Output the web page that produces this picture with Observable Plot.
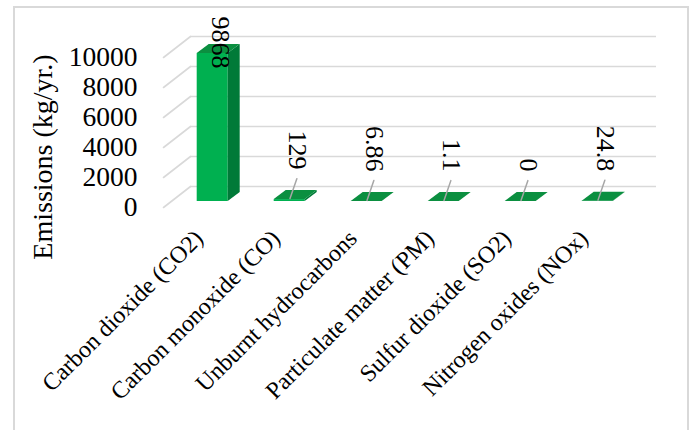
<!DOCTYPE html>
<html>
<head>
<meta charset="utf-8">
<script src="https://cdn.jsdelivr.net/npm/d3@7"></script>
<script src="https://cdn.jsdelivr.net/npm/@observablehq/plot@0.6"></script>
<style>
  html, body { margin: 0; padding: 0; background: #fff; }
  #chart { position: relative; width: 694px; height: 430px; overflow: hidden; background: #fff; }
  #chart svg { position: absolute; left: 0; top: 0; }
  #box { position: absolute; left: 13px; top: 6px; width: 676px; height: 470px;
         border: 2px solid #d9d9d9; box-sizing: border-box; }
</style>
</head>
<body>
<div id="chart"><div id="box"></div></div>
<script>
// Annual emissions by pollutant
const categories = [
  "Carbon dioxide (CO2)",
  "Carbon monoxide (CO)",
  "Unburnt hydrocarbons",
  "Particulate matter (PM)",
  "Sulfur dioxide (SO2)",
  "Nitrogen oxides (NOx)"
];
const emissions = [9868, 129, 6.86, 1.1, 0, 24.8];
const valueLabels = ["9868", "129", "6.86", "1.1", "0", "24.8"];
const yTicks = [0, 2000, 4000, 6000, 8000, 10000];
const yTitle = "Emissions (kg/yr.)";

const data = categories.map((name, i) => ({name, value: emissions[i], label: valueLabels[i]}));

// pseudo-3D geometry (pixels)
const wall = {dx: 27, dy: -21};   // back wall offset from the front plane
const depth = {dx: 12, dy: -9};   // column depth
const colors = {front: "#00b050", side: "#007a38", top: "#0b8f40", grid: "#d9d9d9", leader: "#a6a6a6"};

// straight stroke used for the wall diagonals and leader lines
const segment = {draw(context, l) { context.moveTo(0, 0); context.lineTo(0, -l); }};

// adds the side and top faces to each column
function columnFaces(index, scales, values, dimensions, context, next) {
  const g = next(index, scales, values, dimensions, context);
  const bw = scales.x.bandwidth();
  const sel = d3.select(g);
  for (const i of index) {
    const x0 = values.x[i], x1 = x0 + bw;
    const top = Math.min(values.y1[i], values.y2[i]);
    const base = Math.max(values.y1[i], values.y2[i]);
    sel.append("path")
      .attr("fill", colors.side)
      .attr("d", `M${x1},${top}L${x1},${base}L${x1 + depth.dx},${base + depth.dy}L${x1 + depth.dx},${top + depth.dy}Z`);
    sel.append("path")
      .attr("fill", colors.top)
      .attr("d", `M${x0},${top}L${x1},${top}L${x1 + depth.dx},${top + depth.dy}L${x0 + depth.dx},${top + depth.dy}Z`);
  }
  return g;
}

const lifted = d => d.value < 1000; // labels raised above short columns

const chart = Plot.plot({
  width: 694,
  height: 430,
  marginLeft: 163,
  marginRight: 65,
  marginTop: 57,
  marginBottom: 223,
  style: {
    fontFamily: "'Liberation Serif', 'Times New Roman', serif",
    fontSize: "27px",
    color: "#000",
    background: "transparent",
    overflow: "visible"
  },
  x: {type: "band", domain: categories, paddingInner: 0.6, paddingOuter: 0.3, axis: null},
  y: {domain: [0, 10000], axis: null},
  marks: [
    // back wall gridlines
    Plot.ruleY(yTicks, {y: d => d, dx: wall.dx, dy: wall.dy, stroke: colors.grid, strokeWidth: 1.6}),
    // side wall diagonals
    Plot.vector(yTicks, {
      y: d => d, frameAnchor: "left", anchor: "start",
      length: Math.hypot(wall.dx, wall.dy),
      rotate: Math.atan2(wall.dx, -wall.dy) * 180 / Math.PI,
      shape: segment, stroke: colors.grid, strokeWidth: 1.6
    }),
    // columns
    Plot.barY(data, {x: "name", y: "value", fill: colors.front, dx: 8.7, dy: -6, render: columnFaces}),
    // leader lines for raised labels
    Plot.vector(data, {
      filter: lifted, x: "name", y: "value", dx: 9, dy: -7, anchor: "start",
      length: 21, rotate: 19, shape: segment, stroke: colors.leader, strokeWidth: 1.5
    }),
    // value labels
    Plot.text(data, {
      filter: d => !lifted(d), x: "name", y: "value", text: "label",
      rotate: 90, textAnchor: "end", dx: 16, dy: 9, fontSize: 26
    }),
    Plot.text(data, {
      filter: lifted, x: "name", y: "value", text: "label",
      rotate: 90, textAnchor: "end", dx: 16, dy: -36, fontSize: 26
    }),
    // axes
    Plot.axisY(yTicks, {tickSize: 0, tickPadding: 26, fontSize: 27.5, tickFormat: "d", label: null}),
    Plot.axisX({tickSize: 0, tickPadding: 27, tickRotate: -45, fontSize: 24, dx: -5, label: null}),
    Plot.text([yTitle], {
      text: d => d, frameAnchor: "left", textAnchor: "middle",
      rotate: -90, dx: -120, dy: 24.5, fontSize: 28
    })
  ]
});

document.getElementById("chart").appendChild(chart);
</script>
</body>
</html>
